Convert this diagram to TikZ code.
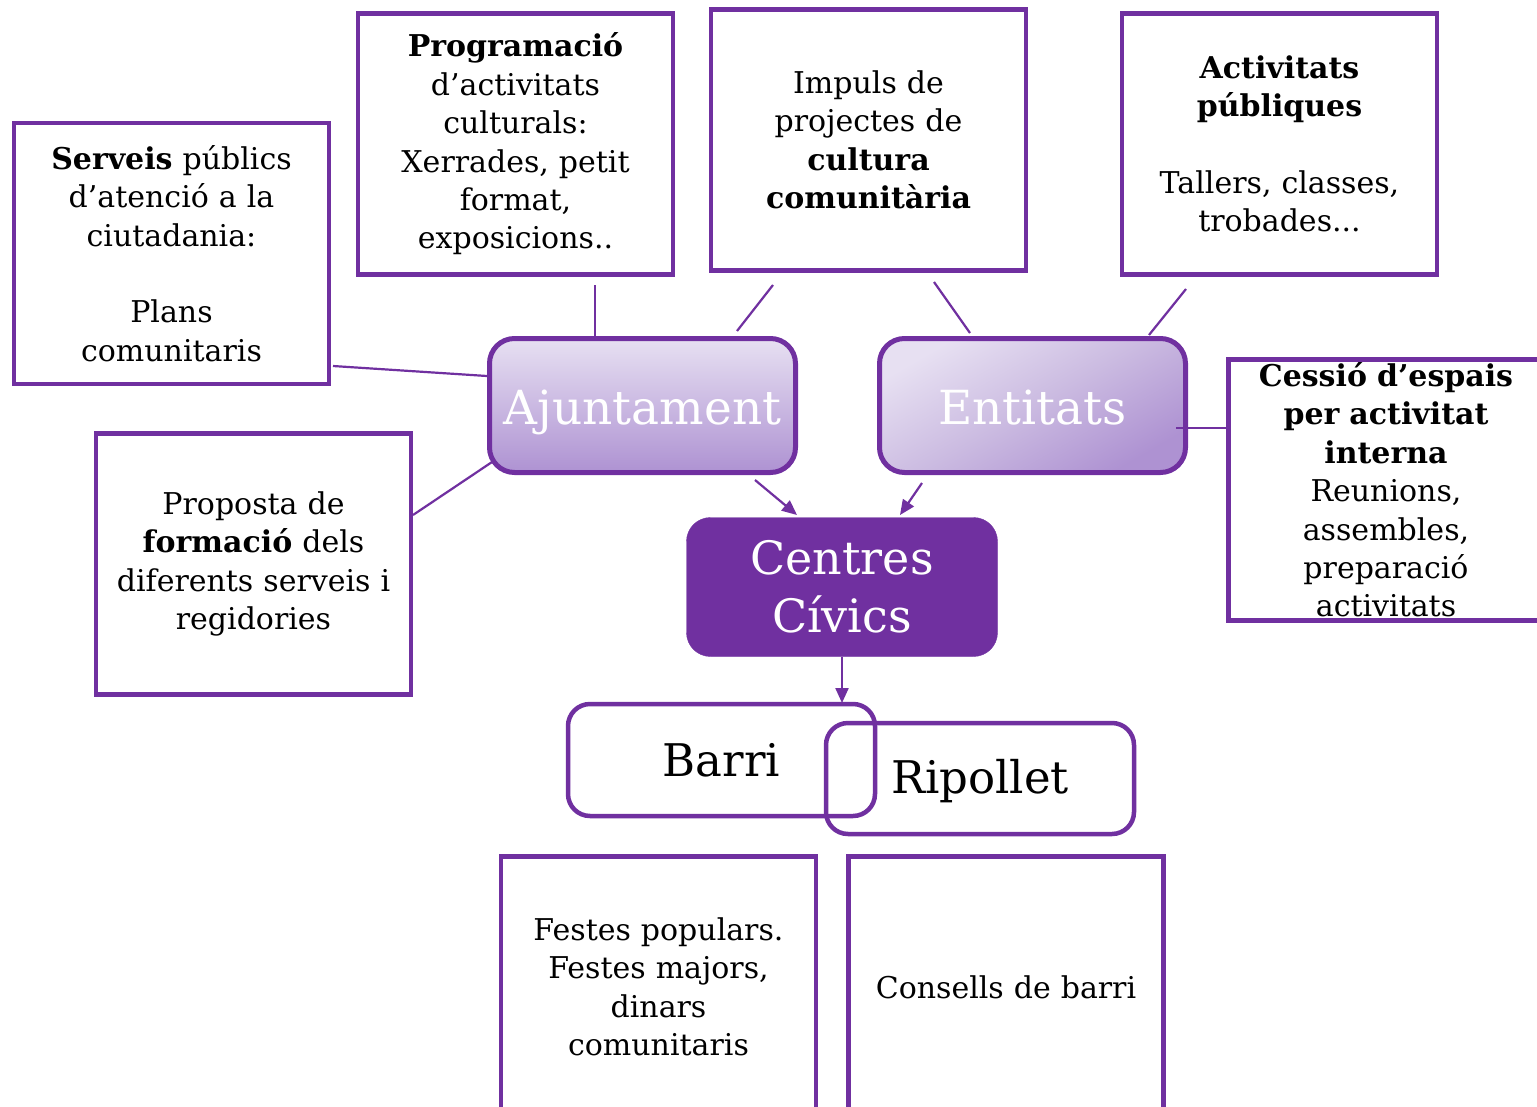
\documentclass[tikz,border=0pt]{standalone}
\usepackage{fontspec}
\setmainfont{DejaVu Serif}
\usetikzlibrary{arrows.meta}
\definecolor{pur}{HTML}{7030A0}
\definecolor{lavtop}{HTML}{E7E0F2}
\definecolor{lavmid}{HTML}{CBBBE1}
\definecolor{lavbot}{HTML}{AE92D2}
\tikzset{
  txtbox/.style={draw=pur, line width=4.5pt, minimum width=315pt, minimum height=261pt,
    text width=310pt, align=center, inner sep=0pt, font=\fontsize{30}{38.4}\selectfont},
  lavbox/.style={draw=pur, line width=5pt, rounded corners=25pt, minimum width=306pt,
    minimum height=134pt, inner sep=0pt, text=white, text height=40pt, text depth=2pt,
    font=\fontsize{47}{54}\selectfont},
  whitebox/.style={draw=pur, line width=4.5pt, rounded corners=22pt, minimum width=307pt,
    minimum height=112pt, inner sep=0pt, font=\fontsize{45}{54}\selectfont},
  conn/.style={draw=pur, line width=2.2pt},
  arr/.style={draw=pur, line width=2.2pt, -{Triangle[length=15pt,width=13pt]}}
}
\begin{document}
\begin{tikzpicture}[x=1pt,y=-1pt]
\useasboundingbox (0,0) rectangle (1537,1106);
\clip (0,0) rectangle (1537,1106);
\fill[white] (0,0) rectangle (1537,1106);

% text boxes
\node[txtbox] (serv) at (171.5,253.5) {\textbf{Serveis} públics\\ d’atenció a la\\ ciutadania:\\ \mbox{}\\ Plans\\ comunitaris};
\node[txtbox] (prog) at (515.5,144) {\textbf{Programació}\\ d’activitats\\ culturals:\\ Xerrades, petit\\ format,\\ exposicions..};
\node[txtbox] (imp) at (868.5,140) {Impuls de\\ projectes de\\ \textbf{cultura}\\ \textbf{comunitària}};
\node[txtbox] (act) at (1279.5,144) {\textbf{Activitats}\\ \textbf{públiques}\\ \mbox{}\\ Tallers, classes,\\ trobades...};
\node[txtbox] (ces) at (1386,490) {\textbf{Cessió d’espais}\\ \textbf{per activitat}\\ \textbf{interna}\\ Reunions,\\ assembles,\\ preparació\\ activitats};
\node[txtbox] (prop) at (253.5,564) {Proposta de\\ \textbf{formació} dels\\ diferents serveis i\\ regidories};
\node[txtbox] (fest) at (658.5,987) {Festes populars.\\ Festes majors,\\ dinars\\ comunitaris};
\node[txtbox] (cons) at (1006,987) {Consells de barri};

% main nodes
\node[lavbox, top color=lavtop, bottom color=lavbot] (aj) at (642.5,405.5) {Ajuntament};
\node[lavbox, top color=lavtop, bottom color=lavbot, middle color=lavmid, shading angle=30] (ent) at (1032.5,405.5) {Entitats};
\node[draw=pur, fill=pur, rounded corners=24pt, minimum width=311pt, minimum height=139pt,
  inner sep=0pt, text=white, align=center, font=\fontsize{46}{58}\selectfont] (cc) at (842,587) {Centres\\ Cívics};
\node[whitebox] (barri) at (721.5,760) {Barri};
\node[whitebox, minimum width=308pt, minimum height=111pt] (rip) at (980,778.5) {};
\node[font=\fontsize{45}{54}\selectfont, inner sep=0pt] (riptxt) at (980,781) {Ripollet};

% connector endpoints
\coordinate (s1) at (333,366); \coordinate (s2) at (487,376);
\coordinate (p1) at (595,285); \coordinate (p2) at (595,336);
\coordinate (i1) at (773,285); \coordinate (i2) at (737,331);
\coordinate (i3) at (934,282); \coordinate (i4) at (970,333);
\coordinate (a1) at (1186,289); \coordinate (a2) at (1149,335);
\coordinate (q1) at (413,515); \coordinate (q2) at (495,460);
\coordinate (e1) at (1176,428); \coordinate (e2) at (1226,428);
\coordinate (aa1) at (755,480); \coordinate (aa2) at (797,515);
\coordinate (ea1) at (922,483); \coordinate (ea2) at (900,515);
\coordinate (c1) at (cc.south); \coordinate (c2) at (842,703);

\draw[conn] (s1) -- (s2);
\draw[conn] (p1) -- (p2);
\draw[conn] (i1) -- (i2);
\draw[conn] (i3) -- (i4);
\draw[conn] (a1) -- (a2);
\draw[conn] (q1) -- (q2);
\draw[conn] (e1) -- (e2);
\draw[arr] (aa1) -- (aa2);
\draw[arr] (ea1) -- (ea2);
\draw[arr] (c1) -- (c2);
\end{tikzpicture}
\end{document}
